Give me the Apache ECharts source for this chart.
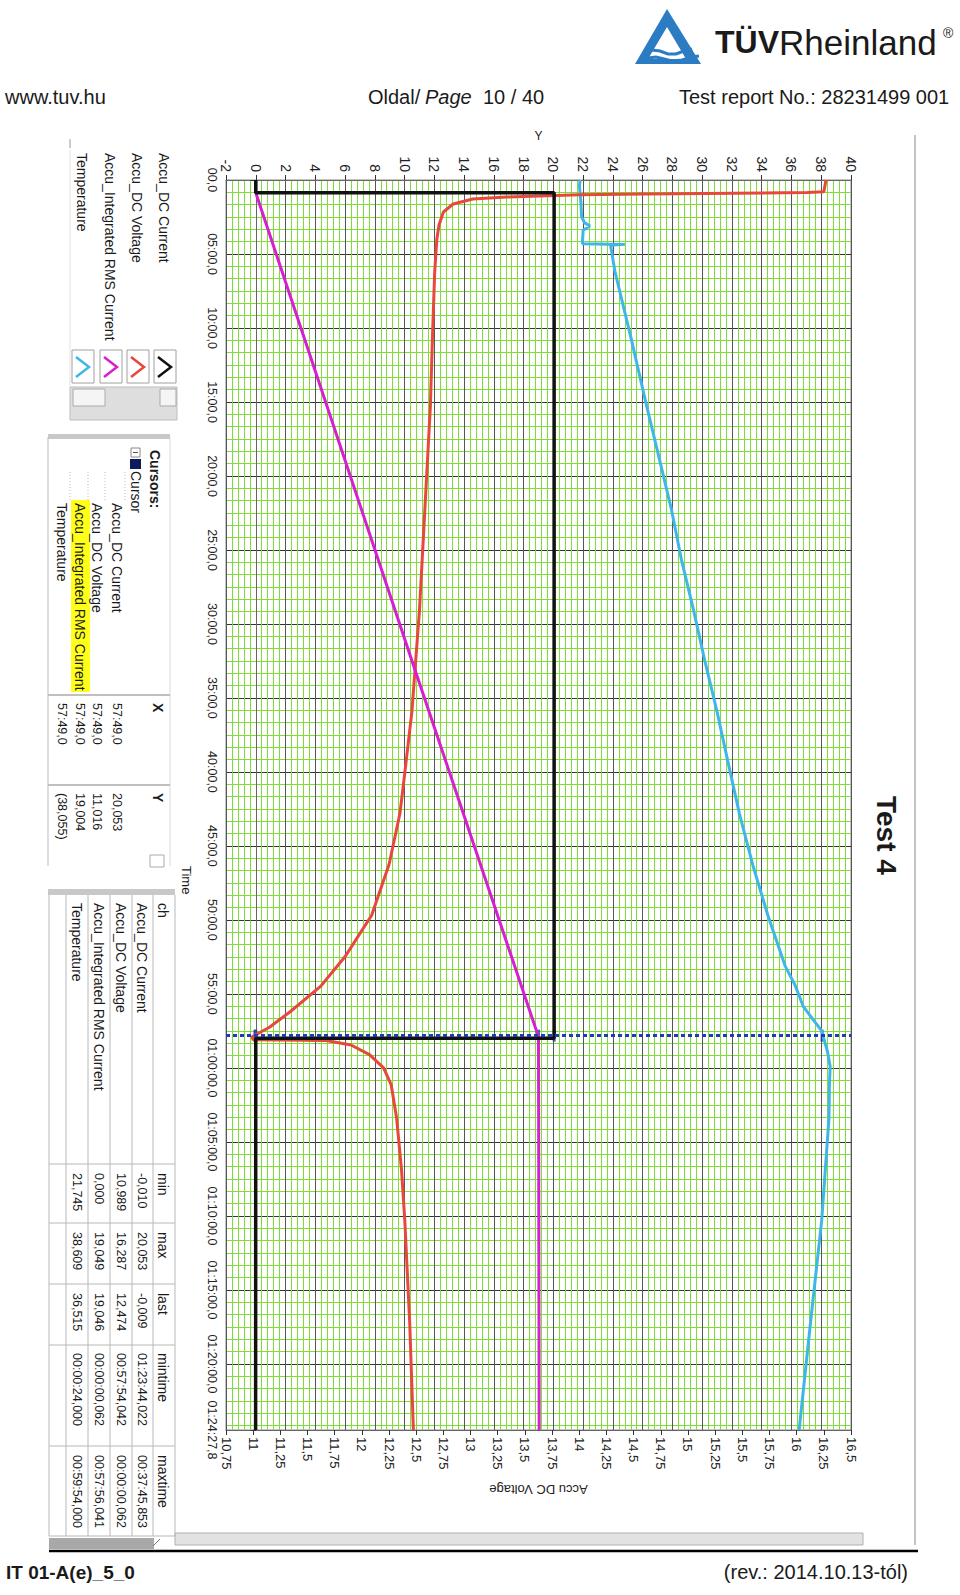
<!DOCTYPE html>
<html><head><meta charset="utf-8">
<script src="https://cdn.jsdelivr.net/npm/echarts@6/dist/echarts.min.js"></script>
<style>html,body{margin:0;padding:0;background:#fff}#c{width:960px;height:1595px}</style>
</head><body><div id="c"></div>
<script>
// ---------- DATA (time in minutes) ----------
const currentT = [0, 0.86, 0.86, 58.0, 58.0, 84.463];
const currentV = [0, 0, 20.05, 20.05, 0, -0.009];

const voltT = [0, 0.8, 0.85, 0.95, 1.0, 1.15, 1.28, 1.62, 2.16, 3.04, 3.99, 6.2, 10.5, 15.32, 22.2, 29.07, 35.94, 40.06, 42.81, 46.25, 49.68, 52.43, 54.49, 56.2, 57.25, 57.9, 58.1, 58.15, 58.45, 59.1, 60.0, 61.15, 63.4, 66.9, 70.3, 77.2, 84.463];
const voltV = [16.27, 16.25, 16.1, 14.6, 14.0, 13.33, 13.02, 12.84, 12.75, 12.71, 12.69, 12.67, 12.65, 12.63, 12.58, 12.53, 12.46, 12.395, 12.35, 12.25, 12.09, 11.85, 11.62, 11.34, 11.15, 10.99, 11.0, 11.67, 11.9, 12.07, 12.2, 12.27, 12.32, 12.365, 12.395, 12.44, 12.474];

const rmsT = [0, 0.86, 32.5, 57.9, 84.463];
const rmsV = [0, 0, 10.5, 19.0, 19.046];

const tempT = [0, 0.4, 1.5, 2.5, 2.9, 3.1, 3.4, 4.3, 4.35, 4.4, 4.45, 6.2, 10.51, 15.32, 18.76, 22.2, 25.63, 29.07, 32.5, 35.94, 39.4, 42.81, 46.25, 49.68, 53.1, 54.4, 55.86, 57.5, 58.9, 59.9, 61.15, 63.4, 70.3, 77.2, 84.463];
const tempV = [21.8, 21.75, 21.85, 21.9, 22.1, 22.45, 22.0, 21.95, 24.8, 24.0, 23.85, 24.14, 25.18, 26.28, 27.1, 27.92, 28.6, 29.42, 30.18, 31.0, 31.75, 32.5, 33.39, 34.41, 35.57, 36.24, 36.8, 38.03, 38.42, 38.6, 38.55, 38.52, 38.03, 37.28, 36.515];

const cursorTime = 57.817;
const cursorX = ['57:49,0', '57:49,0', '57:49,0', '57:49,0'];
const cursorY = ['20,053', '11,016', '19,004', '(38,055)'];
const cursorYVal = [20.053, 11.016, 19.004, 38.055];

const timeTicks = [0, 5, 10, 15, 20, 25, 30, 35, 40, 45, 50, 55, 60, 65, 70, 75, 80, 84.463];
const timeTickLabels = ['00,0', '05:00,0', '10:00,0', '15:00,0', '20:00,0', '25:00,0', '30:00,0', '35:00,0', '40:00,0', '45:00,0', '50:00,0', '55:00,0', '01:00:00,0', '01:05:00,0', '01:10:00,0', '01:15:00,0', '01:20:00,0', '01:24:27,8'];

const channels = ['Accu_DC Current', 'Accu_DC Voltage', 'Accu_Integrated RMS Current', 'Temperature'];
const statHeaders = ['ch', 'min', 'max', 'last', 'mintime', 'maxtime'];
const statMin = ['-0,010', '10,989', '0,000', '21,745'];
const statMax = ['20,053', '16,287', '19,049', '38,609'];
const statLast = ['-0,009', '12,474', '19,046', '36,515'];
const statMinTime = ['01:23:44,022', '00:57:54,042', '00:00:00,062', '00:00:24,000'];
const statMaxTime = ['00:37:45,853', '00:00:00,062', '00:57:56,041', '00:59:54,000'];
const seriesColors = ['#111111', '#e8473b', '#d61fd0', '#3fb6e8'];

// ---------- BUILD ----------
const FONT = '"Liberation Sans", Arial, sans-serif';
const G = [];
function vt(x, y, text, size, o) {
  o = o || {};
  G.push({ type: 'text', x: x, y: y, rotation: o.rot !== undefined ? o.rot : -Math.PI / 2, silent: true, z: 10,
    style: { text: text, font: (o.italic ? 'italic ' : '') + (o.bold ? 'bold ' : '') + size + 'px ' + FONT,
      fill: o.color || '#1a1a1a', textAlign: o.align || 'left', textVerticalAlign: o.valign || 'middle' } });
}
function ht(x, y, text, size, o) { o = o || {}; o.rot = 0; vt(x, y, text, size, o); }
function ln(x1, y1, x2, y2, color, w, dash) {
  G.push({ type: 'line', silent: true, z: 5, shape: { x1: x1, y1: y1, x2: x2, y2: y2 },
    style: { stroke: color, lineWidth: w || 1, lineDash: dash || null } });
}
function rc(x, y, w, h, fill, stroke, lw) {
  G.push({ type: 'rect', silent: true, z: 4, shape: { x: x, y: y, width: w, height: h },
    style: { fill: fill || 'none', stroke: stroke || 'none', lineWidth: lw || 1 } });
}
function pl(points, color, w) {
  G.push({ type: 'polyline', silent: true, z: 6, shape: { points: points }, style: { stroke: color, lineWidth: w, fill: 'none' } });
}

// header
ht(5, 97, 'www.tuv.hu', 20);
ht(368, 97, 'Oldal/', 20);
ht(425, 97, 'Page', 20, { italic: true });
ht(483, 97, '10 / 40', 20);
ht(679, 97, 'Test report No.: 28231499 001', 20);
// logo
G.push({ type: 'polygon', silent: true, z: 4, shape: { points: [[667, 9], [635, 64], [701, 64]] }, style: { fill: '#2b7cc3' } });
G.push({ type: 'polygon', silent: true, z: 5, shape: { points: [[667, 27], [648, 59], [686, 59]] }, style: { fill: '#ffffff' } });
pl([[645, 53], [652, 50], [660, 51], [668, 54], [676, 54], [684, 51], [692, 49]], '#2b7cc3', 3);
pl([[640, 61], [648, 58], [656, 57], [664, 59], [672, 61], [682, 60], [692, 57], [699, 56]], '#2b7cc3', 3);
ht(715, 42, 'TÜV', 32, { bold: true });
ht(779, 42, 'Rheinland', 35);
ht(943, 33, '®', 14);

// footer
ln(49, 1551, 918, 1551, '#000', 2.5);
ht(6, 1572, 'IT 01-A(e)_5_0', 19, { bold: true });
ht(908, 1572, '(rev.: 2014.10.13-tól)', 20, { align: 'right' });

// screenshot frame pieces
ln(915, 135, 915, 1545, '#c4c4c4', 2);
rc(175, 1533, 688, 12, '#e2e2e2', '#b0b0b0');
rc(49, 1538, 105, 11, '#a8a8a8', null);
ln(153, 1546, 160, 1539, '#777', 1);

// Test 4
vt(886, 796, 'Test 4', 28, { bold: true });

// Time axis title
vt(186, 866, 'Time', 13);

// legend panel
ln(70, 139, 70, 148, '#999', 1);
ln(70, 150, 70, 386, '#e2e2e2', 1);
const legX = [164, 137, 110, 82];
for (let i = 0; i < 4; i++) {
  vt(legX[i], 153, channels[i], 14);
  rc(legX[i] - 10, 350, 22, 33, '#fff', '#a0a0a0');
  pl([[legX[i] - 6, 357], [legX[i] + 7, 367], [legX[i] - 6, 377]], seriesColors[i], 2.5);
}
rc(70, 387, 107, 33, '#dedede', '#bdbdbd');
rc(73, 389, 32, 17, '#f5f5f5', '#aaa');
rc(160, 389, 16, 17, '#f5f5f5', '#aaa');

// cursors panel
rc(48, 434, 122, 5, '#c8c8c8', null);
ln(48, 437, 48, 866, '#bdbdbd', 1);
ln(170, 437, 170, 866, '#d8d8d8', 1);
vt(155, 450, 'Cursors:', 14, { bold: true });
rc(131, 448, 9, 9, '#fff', '#888');
ln(133, 452.5, 138, 452.5, '#555', 1);
rc(130, 459, 11, 10, '#0e1a5a', null);
vt(136, 471, 'Cursor', 14);
const curRowX = [117, 97, 80, 62];
for (let i = 0; i < 4; i++) {
  ln(curRowX[i] + 8, 472, curRowX[i] + 8, 500, '#bbb', 1, [1, 2]);
  if (i === 2) rc(71, 500, 19, 192, '#ffff1a', null);
  vt(curRowX[i], 503, channels[i], 14);
  vt(curRowX[i], 703, cursorX[i], 12.5);
  vt(curRowX[i], 793, cursorY[i], 12.5);
}
ln(48, 695, 170, 695, '#c0c0c0', 2);
ln(48, 785, 170, 785, '#c0c0c0', 2);
vt(158, 703, 'X', 14, { bold: true });
vt(158, 793, 'Y', 14, { bold: true });
rc(150, 855, 14, 12, '#fff', '#aaa');

// statistics table
rc(48, 889, 127, 6, '#c8c8c8', null);
const tblRowLines = [49, 66, 88, 110, 132, 153, 175];
const tblColLines = [1164, 1223, 1284, 1345, 1446, 1536];
tblRowLines.forEach(x => ln(x, 895, x, 1536, '#b8b8b8', 1));
tblColLines.forEach(y => ln(49, y, 175, y, '#b8b8b8', 1));
const tblTextX = [142, 121, 99, 77];
const colStartY = [903, 1173, 1232, 1293, 1353, 1455];
statHeaders.forEach((h, j) => vt(163, colStartY[j], h, 14));
for (let i = 0; i < 4; i++) {
  vt(tblTextX[i], colStartY[0], channels[i], 14);
  vt(tblTextX[i], colStartY[1], statMin[i], 12.5);
  vt(tblTextX[i], colStartY[2], statMax[i], 12.5);
  vt(tblTextX[i], colStartY[3], statLast[i], 12.5);
  vt(tblTextX[i], colStartY[4], statMinTime[i], 12.5);
  vt(tblTextX[i], colStartY[5], statMaxTime[i], 12.5);
}

function pts(T, V) { return T.map((t, i) => [V[i], t]); }

const chart = echarts.init(document.getElementById('c'), null, { renderer: 'svg' });
chart.setOption({
  animation: false,
  backgroundColor: '#fff',
  grid: { left: 226, top: 180, width: 625, height: 1250, show: true, borderColor: '#8a8a8a', borderWidth: 1, backgroundColor: '#fff' },
  xAxis: [
    { type: 'value', position: 'top', min: -2, max: 40, interval: 2,
      name: 'Y', nameLocation: 'middle', nameGap: 38, nameTextStyle: { fontSize: 12, color: '#222', fontFamily: FONT },
      axisLine: { show: true, lineStyle: { color: '#666' } },
      axisTick: { show: true, length: 5, lineStyle: { color: '#333' } },
      axisLabel: { rotate: -90, margin: 8, fontSize: 14, color: '#222', fontFamily: FONT },
      splitLine: { show: true, lineStyle: { color: '#555', width: 1 } },
      minorTick: { show: false, splitNumber: 5 },
      minorSplitLine: { show: true, lineStyle: { color: '#7fdc3a', width: 1 } } },
    { type: 'value', position: 'bottom', min: 10.75, max: 16.5, interval: 0.25,
      name: 'Accu DC Voltage', nameLocation: 'middle', nameGap: 53, nameRotate: 180,
      nameTextStyle: { fontSize: 13, color: '#222', fontFamily: FONT },
      axisLine: { show: true, lineStyle: { color: '#666' } },
      axisTick: { show: true, length: 5, lineStyle: { color: '#333' } },
      axisLabel: { rotate: -90, margin: 7, fontSize: 13, color: '#222', fontFamily: FONT,
        formatter: v => String(+v.toFixed(2)).replace('.', ',') },
      splitLine: { show: false } }
  ],
  yAxis: {
    type: 'value', inverse: true, min: 0, max: 84.463, interval: 5, position: 'left',
    axisLine: { show: true, lineStyle: { color: '#666' } },
    axisTick: { show: true, length: 5, lineStyle: { color: '#333' } },
    axisLabel: { rotate: -90, margin: 8, fontSize: 12.5, color: '#222', fontFamily: FONT,
      customValues: timeTicks,
      formatter: v => { const i = timeTicks.findIndex(t => Math.abs(t - v) < 1e-6); return i >= 0 ? timeTickLabels[i] : ''; } },
    splitLine: { show: true, lineStyle: { color: '#333', width: 1 } },
    minorTick: { show: false, splitNumber: 6 },
    minorSplitLine: { show: true, lineStyle: { color: '#7fdc3a', width: 1 } }
  },
  series: [
    { name: 'Temperature', type: 'line', xAxisIndex: 0, data: pts(tempT, tempV), showSymbol: false, lineStyle: { color: seriesColors[3], width: 3 }, itemStyle: { color: seriesColors[3] } },
    { name: 'Accu_DC Voltage', type: 'line', xAxisIndex: 1, data: pts(voltT, voltV), showSymbol: false, lineStyle: { color: seriesColors[1], width: 3 }, itemStyle: { color: seriesColors[1] } },
    { name: 'Accu_Integrated RMS Current', type: 'line', xAxisIndex: 0, data: pts(rmsT, rmsV), showSymbol: false, lineStyle: { color: seriesColors[2], width: 3 }, itemStyle: { color: seriesColors[2] } },
    { name: 'Accu_DC Current', type: 'line', xAxisIndex: 0, data: pts(currentT, currentV), showSymbol: false, lineStyle: { color: seriesColors[0], width: 3.5 }, itemStyle: { color: seriesColors[0] },
      markLine: { silent: true, symbol: ['none', 'none'], label: { show: false },
        lineStyle: { color: '#1d3db8', type: [4, 3], width: 3 }, data: [{ yAxis: cursorTime }] } },
    { name: 'cursorA', type: 'scatter', xAxisIndex: 0, symbol: 'rect', symbolSize: [3, 12], itemStyle: { color: '#1d3db8' },
      data: [[cursorYVal[0], cursorTime], [cursorYVal[2], cursorTime], [cursorYVal[3], cursorTime], [0, cursorTime]] },
    { name: 'cursorB', type: 'scatter', xAxisIndex: 1, symbol: 'rect', symbolSize: [3, 12], itemStyle: { color: '#1d3db8' },
      data: [[cursorYVal[1], cursorTime]] }
  ],
  graphic: { elements: G }
});
</script></body></html>
